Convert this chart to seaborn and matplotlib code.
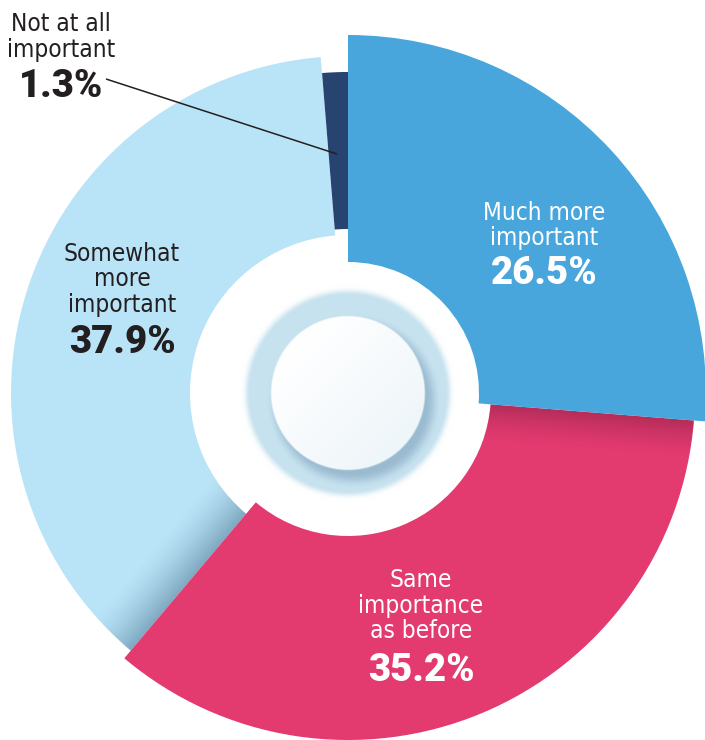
import numpy as np
import matplotlib
matplotlib.use("Agg")
import matplotlib.pyplot as plt
from matplotlib import font_manager as fm
import seaborn as sns

# ---- data -------------------------------------------------------------
categories = ["Much more important", "Same importance as before",
              "Somewhat more important", "Not at all important"]
label_lines = [["Much more", "important"],
               ["Same", "importance", "as before"],
               ["Somewhat", "more", "important"],
               ["Not at all", "important"]]
shares = [26.5, 35.2, 37.9, 1.3]

# ---- styling ----------------------------------------------------------
sns.set_theme(style="white")
palette = sns.color_palette(["#48A6DC", "#E33A70", "#B9E4F8", "#27436F"])
text_colors = ["white", "white", "#231F20", "#231F20"]
outer_r = [358, 347, 337, 321]
inner_r = [131, 143, 158, 164]
zorders = [4, 3, 2, 3]


def narrow_font():
    """Pick an installed condensed regular sans face, if any."""
    prefs = ["liberationsansnarrow-regular", "dejavusanscondensed.",
             "opensans_condensed-regular", "opensans-condensedregular"]
    files = [f.fname for f in fm.fontManager.ttflist]
    for p in prefs:
        for fn in files:
            if p in fn.lower().replace(" ", ""):
                return fm.FontProperties(fname=fn), True
    for f in fm.fontManager.ttflist:
        low = f.fname.lower()
        if (("condensed" in low or "narrow" in low) and f.style == "normal"
                and f.weight in (400, "normal", "regular")
                and "bold" not in low and "light" not in low
                and "semi" not in low and "extra" not in low):
            return fm.FontProperties(fname=f.fname), True
    return fm.FontProperties(family="DejaVu Sans"), False


LABEL_PROPS, IS_NARROW = narrow_font()
LABEL_SIZE = 17.5 if IS_NARROW else 15
VALUE_FONT = ["Roboto", "DejaVu Sans"]

W, H = 705, 740
CX, CY = 348, H - 393

fig = plt.figure(figsize=(W / 100, H / 100), dpi=100)
ax = fig.add_axes([0, 0, 1, 1])

wedges, _ = ax.pie(shares, startangle=90, counterclock=False,
                   center=(CX, CY), radius=outer_r[0], colors=palette,
                   wedgeprops=dict(linewidth=0), frame=True)
ax.set_xlim(0, W)
ax.set_ylim(0, H)
ax.set_aspect("equal")
ax.axis("off")
for w, ro, ri, z in zip(wedges, outer_r, inner_r, zorders):
    w.set_radius(ro)
    w.set_width(ro - ri)
    w.set_zorder(z)

# angles of the slice boundaries (degrees, clockwise from 12 o'clock)
fracs = np.array(shares) / np.sum(shares)
bounds = 90 - 360 * np.cumsum(fracs)

# soft shadows cast across neighbouring slices
gx = np.arange(0, W) + 0.5
gy = np.arange(0, H) + 0.5
X, Y = np.meshgrid(gx, gy)


def edge_shadow(wedge, angle, width, strength, color, z):
    th = np.deg2rad(angle)
    nx, ny = np.sin(th), -np.cos(th)
    d = (X - CX) * nx + (Y - CY) * ny
    a = np.clip(1 - np.abs(d) / width, 0, 1) ** 1.5 * strength
    img = np.zeros((H, W, 4))
    img[..., :3] = matplotlib.colors.to_rgb(color)
    img[..., 3] = a
    im = ax.imshow(img, extent=(0, W, 0, H), origin="lower",
                   zorder=z, interpolation="bilinear")
    im.set_clip_path(wedge)


edge_shadow(wedges[1], bounds[0], 38, 0.28, "#3A0A1E", 3.5)
edge_shadow(wedges[2], bounds[1], 50, 0.38, "#1F4763", 2.5)

# the round button in the hole
R = 130
bx = np.linspace(CX - R, CX + R, 2 * R)
by = np.linspace(CY - R, CY + R, 2 * R)
BX, BY = np.meshgrid(bx, by)
r = np.hypot(BX - CX, BY - CY)


def smooth(e0, e1, v):
    t = np.clip((v - e0) / (e1 - e0), 0, 1)
    return t * t * (3 - 2 * t)


rgb = np.ones(BX.shape + (3,))
ring = np.array(matplotlib.colors.to_rgb("#C6E2EF"))
a_ring = 1 - smooth(98, 110, r)
rgb = rgb * (1 - a_ring[..., None]) + ring * a_ring[..., None]
alpha = a_ring
# shadow under the white disc, falling to the lower right
rs = np.hypot(BX - (CX + 6), BY - (CY - 8))
a_sh = (1 - smooth(72, 88, rs)) * 0.5
sh = np.array(matplotlib.colors.to_rgb("#6F93B2"))
rgb = rgb * (1 - a_sh[..., None]) + sh * a_sh[..., None]
alpha = np.maximum(alpha, a_sh)
# white disc with a faint cool tint toward the lower right
a_w = 1 - smooth(76, 78.5, r)
tint = np.clip(((BX - CX) - (BY - CY)) / 180 + 0.5, 0, 1)[..., None]
disc = np.array([0.998, 0.999, 1.0]) * (1 - tint) + np.array([0.94, 0.965, 0.98]) * tint
rgb = rgb * (1 - a_w[..., None]) + disc * a_w[..., None]
alpha = np.maximum(alpha, a_w)
button = np.dstack([rgb, alpha])
ax.imshow(button, extent=(CX - R, CX + R, CY - R, CY + R), origin="lower",
          zorder=6, interpolation="bilinear")

# ---- labels -----------------------------------------------------------
label_x = [544, 421, 122, 61]
first_baseline = [220, 587, 261, 31]
value_baseline = [284, 681, 353, 97]
for lines, val, x, b0, vb, col in zip(label_lines, shares, label_x,
                                       first_baseline, value_baseline,
                                       text_colors):
    for i, line in enumerate(lines):
        ax.text(x, H - (b0 + 25.5 * i), line, ha="center", va="baseline",
                fontproperties=LABEL_PROPS, fontsize=LABEL_SIZE, color=col,
                zorder=8)
    ax.text(x, H - vb, f"{val:.1f}%", ha="center", va="baseline",
            fontsize=27.5, fontweight="black", color=col, family=VALUE_FONT,
            zorder=8)

# leader line for the thin slice
ax.plot([106, 337], [H - 79, H - 154], color="#231F20", lw=1.1,
        zorder=8, solid_capstyle="butt")

fig.savefig("out.png", dpi=100, facecolor="white")
